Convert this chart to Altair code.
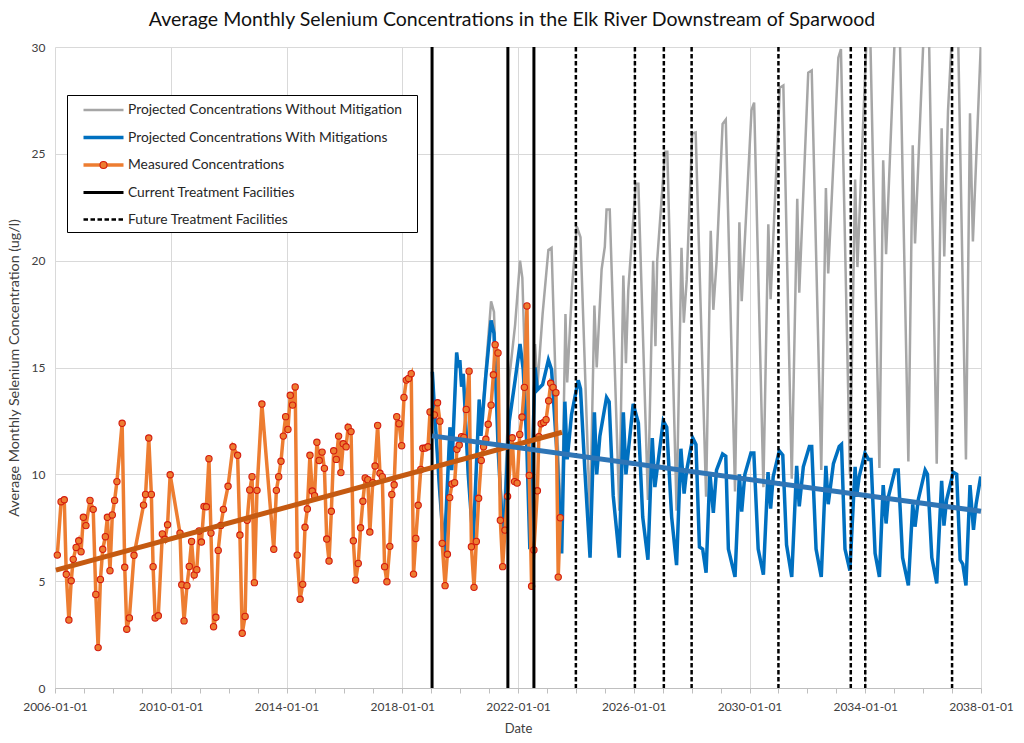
import altair as alt
import pandas as pd

# ------------------------------------------------------------------ data
# Measured monthly averages: (decimal year, ug/l)
measured = [
    (2006.08, 6.22), (2006.21, 8.72), (2006.32, 8.81), (2006.39, 5.32), (2006.48, 3.18),
    (2006.56, 5.02), (2006.63, 6.02), (2006.73, 6.58), (2006.82, 6.89), (2006.90, 6.38),
    (2006.98, 7.99), (2007.07, 7.60), (2007.21, 8.78), (2007.32, 8.36), (2007.41, 4.38),
    (2007.49, 1.89), (2007.57, 5.08), (2007.65, 6.49), (2007.74, 7.08), (2007.81, 7.99),
    (2007.90, 5.49), (2007.98, 8.10), (2008.06, 8.78), (2008.14, 9.66), (2008.32, 12.39),
    (2008.41, 5.65), (2008.48, 2.75), (2008.57, 3.28), (2008.73, 6.21), (2009.06, 8.56),
    (2009.13, 9.06), (2009.24, 11.70), (2009.33, 9.06), (2009.39, 5.68), (2009.46, 3.28),
    (2009.57, 3.38), (2009.71, 7.21), (2009.80, 6.96), (2009.89, 7.64), (2009.98, 9.98),
    (2010.32, 7.25), (2010.38, 4.83), (2010.46, 3.14), (2010.56, 4.79), (2010.64, 5.69),
    (2010.72, 6.86), (2010.81, 5.29), (2010.90, 5.54), (2010.98, 7.35), (2011.06, 6.83),
    (2011.15, 8.50), (2011.23, 8.48), (2011.32, 10.73), (2011.39, 7.25), (2011.48, 2.87),
    (2011.56, 3.31), (2011.64, 6.44), (2011.73, 7.61), (2011.82, 8.36), (2011.98, 9.44),
    (2012.15, 11.29), (2012.31, 10.89), (2012.39, 7.16), (2012.47, 2.56), (2012.57, 3.35),
    (2012.64, 7.85), (2012.73, 9.27), (2012.81, 9.89), (2012.89, 4.93), (2012.98, 9.25),
    (2013.15, 13.29), (2013.56, 6.49), (2013.65, 9.25), (2013.73, 9.89), (2013.81, 10.61),
    (2013.89, 11.79), (2013.97, 12.70), (2014.05, 12.10), (2014.13, 13.70), (2014.21, 13.24),
    (2014.30, 14.09), (2014.37, 6.22), (2014.47, 4.15), (2014.56, 4.85), (2014.64, 7.52),
    (2014.72, 8.38), (2014.81, 10.89), (2014.89, 9.22), (2014.97, 9.00), (2015.05, 11.50),
    (2015.13, 10.65), (2015.23, 11.04), (2015.31, 10.28), (2015.39, 6.97), (2015.47, 5.94),
    (2015.55, 8.27), (2015.63, 11.10), (2015.72, 10.70), (2015.80, 11.79), (2015.88, 10.08),
    (2015.96, 11.43), (2016.06, 11.29), (2016.13, 12.20), (2016.23, 12.00), (2016.31, 6.89),
    (2016.39, 5.05), (2016.48, 5.83), (2016.56, 7.50), (2016.64, 8.74), (2016.72, 9.83),
    (2016.81, 9.75), (2016.88, 7.30), (2016.98, 9.61), (2017.06, 10.39), (2017.15, 12.29),
    (2017.23, 10.05), (2017.31, 9.89), (2017.39, 5.68), (2017.47, 4.97), (2017.57, 6.63),
    (2017.64, 9.06), (2017.72, 9.51), (2017.81, 12.70), (2017.89, 12.37), (2017.98, 11.34),
    (2018.06, 13.60), (2018.14, 14.41), (2018.22, 14.49), (2018.31, 14.71), (2018.39, 5.33),
    (2018.47, 7.00), (2018.55, 8.55), (2018.64, 10.23), (2018.71, 11.22), (2018.80, 11.23),
    (2018.89, 11.29), (2018.96, 12.92), (2019.11, 12.78), (2019.22, 13.35), (2019.30, 12.49),
    (2019.38, 6.77), (2019.48, 4.79), (2019.56, 6.26), (2019.64, 8.91), (2019.72, 9.55),
    (2019.81, 9.61), (2019.89, 11.17), (2019.97, 11.37), (2020.05, 11.76), (2020.13, 11.73),
    (2020.21, 13.04), (2020.31, 14.83), (2020.39, 6.61), (2020.48, 4.71), (2020.56, 6.86),
    (2020.64, 8.88), (2020.73, 10.65), (2020.81, 11.29), (2020.89, 11.64), (2020.97, 12.34),
    (2021.07, 13.24), (2021.15, 14.66), (2021.21, 16.07), (2021.31, 15.68), (2021.39, 7.85),
    (2021.47, 5.68), (2021.55, 7.39), (2021.64, 8.97), (2021.80, 11.71), (2021.88, 9.66),
    (2021.97, 9.59), (2022.06, 11.87), (2022.14, 12.68), (2022.22, 14.07), (2022.31, 17.88),
    (2022.39, 9.95), (2022.47, 4.76), (2022.55, 6.46), (2022.67, 9.23), (2022.72, 11.76),
    (2022.80, 12.37), (2022.89, 12.43), (2022.97, 12.56), (2023.06, 13.44), (2023.13, 14.26),
    (2023.21, 14.07), (2023.31, 13.82), (2023.39, 5.19), (2023.46, 7.97),
]

# Projections: identical for both scenarios until late 2020
projected_shared = [
    (2019.04, 14.8), (2019.12, 12.9), (2019.28, 9.5), (2019.45, 6.3), (2019.65, 12.2),
    (2019.71, 10.2), (2019.88, 15.7), (2019.94, 15.0), (2019.99, 15.35), (2020.05, 14.1),
    (2020.11, 14.7), (2020.28, 10.0), (2020.45, 6.8), (2020.66, 13.5), (2020.72, 11.8),
]

with_mitigation = projected_shared + [
    (2020.88, 14.5), (2021.07, 17.2), (2021.17, 16.6), (2021.32, 11.0), (2021.49, 6.8),
    (2021.70, 12.5), (2021.90, 14.4), (2022.07, 16.1), (2022.18, 14.9), (2022.30, 11.5),
    (2022.41, 6.5), (2022.59, 15.0), (2022.67, 13.95), (2022.85, 14.2), (2023.05, 15.35),
    (2023.16, 14.9), (2023.34, 11.1), (2023.51, 6.3), (2023.62, 13.4), (2023.70, 10.7),
    (2023.85, 12.8),
    (2024.08, 14.4), (2024.16, 14.0), (2024.31, 10.2), (2024.49, 6.1), (2024.64, 12.9), (2024.72, 10.0), (2024.83, 11.8),
    (2025.06, 13.6), (2025.15, 13.4), (2025.29, 9.0), (2025.50, 6.1), (2025.64, 12.9), (2025.73, 10.0),
    (2025.98, 13.3), (2026.16, 12.4), (2026.31, 8.0), (2026.49, 6.0), (2026.64, 11.7), (2026.73, 9.4),
    (2027.02, 12.5), (2027.14, 12.2), (2027.31, 8.0), (2027.48, 5.75), (2027.63, 11.2), (2027.74, 9.1), (2027.83, 10.2),
    (2028.04, 11.7), (2028.15, 11.4), (2028.27, 6.6), (2028.38, 6.5), (2028.50, 5.4), (2028.63, 10.1), (2028.75, 8.2), (2028.86, 10.2),
    (2029.07, 10.95), (2029.18, 10.85), (2029.27, 6.5), (2029.50, 5.2), (2029.65, 10.0), (2029.73, 8.25), (2029.84, 10.0),
    (2030.05, 11.0), (2030.15, 11.0), (2030.30, 6.5), (2030.48, 5.3), (2030.64, 10.1), (2030.73, 8.4), (2030.82, 9.9),
    (2031.03, 11.1), (2031.15, 10.9), (2031.28, 6.7), (2031.46, 5.2), (2031.63, 10.4), (2031.72, 8.5), (2031.86, 10.35),
    (2032.07, 11.3), (2032.15, 11.3), (2032.30, 6.5), (2032.48, 5.2), (2032.64, 10.4), (2032.72, 8.6), (2032.90, 10.5),
    (2033.10, 11.3), (2033.18, 11.4), (2033.30, 6.5), (2033.47, 5.5), (2033.65, 10.35), (2033.70, 8.95), (2033.79, 9.9),
    (2033.99, 11.0), (2034.11, 10.7), (2034.20, 10.7), (2034.34, 6.3), (2034.49, 5.2), (2034.62, 9.5), (2034.72, 7.7), (2034.80, 8.95),
    (2035.03, 10.2), (2035.14, 10.2), (2035.29, 6.1), (2035.49, 4.8), (2035.64, 8.6), (2035.72, 7.55), (2035.83, 8.8),
    (2036.07, 10.2), (2036.15, 10.0), (2036.30, 6.1), (2036.47, 4.9), (2036.64, 9.7), (2036.72, 7.6), (2036.81, 8.8),
    (2037.04, 10.1), (2037.16, 10.0), (2037.28, 6.0), (2037.37, 5.8), (2037.48, 4.8), (2037.62, 9.5), (2037.74, 7.4), (2037.83, 8.6), (2037.99, 9.9),
]

without_mitigation = projected_shared + [
    (2020.88, 14.8), (2021.07, 18.1), (2021.17, 17.6), (2021.32, 11.5), (2021.49, 7.0),
    (2021.70, 14.5), (2021.90, 17.0), (2022.07, 20.0), (2022.15, 19.2), (2022.30, 12.5),
    (2022.45, 7.0), (2022.59, 16.1), (2022.67, 14.1), (2022.85, 17.5), (2023.05, 20.5),
    (2023.16, 20.6), (2023.34, 12.5), (2023.51, 7.2), (2023.64, 17.5), (2023.70, 14.3),
    (2023.87, 18.8),
    (2024.03, 21.6), (2024.16, 21.1), (2024.49, 7.8), (2024.64, 17.9), (2024.72, 15.0), (2024.89, 19.6), (2025.00, 20.65),
    (2025.06, 22.4), (2025.17, 22.4), (2025.50, 8.3), (2025.64, 19.3), (2025.73, 15.2), (2025.81, 18.6),
    (2026.07, 23.6), (2026.16, 23.6), (2026.49, 8.8), (2026.67, 20.0), (2026.75, 16.0), (2026.81, 20.0),
    (2027.08, 25.1), (2027.16, 25.1), (2027.48, 8.3), (2027.65, 20.6), (2027.73, 17.1), (2027.83, 19.1),
    (2028.02, 25.95), (2028.14, 26.0), (2028.50, 8.95), (2028.66, 21.4), (2028.75, 17.7), (2028.86, 19.9),
    (2029.07, 26.4), (2029.18, 26.6), (2029.50, 9.2), (2029.65, 21.8), (2029.73, 18.1),
    (2030.07, 27.05), (2030.16, 27.4), (2030.48, 9.4), (2030.65, 21.7), (2030.73, 18.2),
    (2031.05, 28.1), (2031.17, 28.2), (2031.46, 9.8), (2031.65, 22.9), (2031.72, 18.5),
    (2032.03, 28.8), (2032.15, 28.9), (2032.48, 10.2), (2032.64, 23.4), (2032.72, 19.4),
    (2033.07, 29.5), (2033.16, 29.9), (2033.47, 10.0), (2033.65, 23.8), (2033.73, 19.7),
    (2034.05, 30.6), (2034.17, 30.8), (2034.49, 10.3), (2034.62, 24.7), (2034.72, 20.3),
    (2035.05, 31.5), (2035.18, 31.6), (2035.49, 10.6), (2035.64, 25.4), (2035.72, 20.8),
    (2036.06, 32.0), (2036.18, 32.2), (2036.47, 10.5), (2036.64, 26.2), (2036.73, 20.2), (2036.86, 27.0),
    (2037.07, 32.5), (2037.18, 32.7), (2037.48, 10.7), (2037.62, 26.9), (2037.72, 20.9), (2037.99, 30.0),
]

# Trend lines (end points)
measured_trend = [(2006.03, 5.52), (2023.52, 11.97)]
projected_trend = [(2019.03, 11.80), (2038.00, 8.27)]

# Treatment facility dates (decimal years)
current_facilities = [2019.03, 2021.65, 2022.55]
future_facilities = [2024.00, 2026.04, 2027.04, 2028.00, 2031.00, 2033.50, 2034.00, 2037.00]

# Axis ticks
year_ticks = list(range(2006, 2039))
y_ticks = [0, 5, 10, 15, 20, 25, 30]

legend_labels = [
    "Projected Concentrations Without Mitigation",
    "Projected Concentrations With Mitigations",
    "Measured Concentrations",
    "Current Treatment Facilities",
    "Future Treatment Facilities",
]

# ------------------------------------------------------------------ styles
FONT = "Lato"
GRAY = "#A6A6A6"
BLUE = "#0070C0"
ORANGE = "#ED7D31"
MARKER_EDGE = "#D41B0E"
TREND_ORANGE = "#C55A11"
TREND_BLUE = "#2E75B6"
TEXT = "#404040"


def frame(pairs):
    return pd.DataFrame(pairs, columns=["year", "value"])


is_major = "(datum.value - 2006) % 4 == 0"
x_axis = alt.Axis(
    values=year_ticks,
    labelExpr=f"{is_major} ? datum.value + '-01-01' : ''",
    labelOverlap=False,
    labelFlush=False,
    gridOpacity={"condition": {"test": is_major, "value": 1}, "value": 0},
    grid=True,
    gridColor="#D9D9D9",
    domainColor="#BFBFBF",
    tickColor="#BFBFBF",
    tickSize=5,
    labelPadding=8,
    titlePadding=10,
)
y_axis = alt.Axis(
    values=y_ticks,
    grid=True,
    gridColor="#D9D9D9",
    ticks=False,
    domain=False,
    labelPadding=10,
    titlePadding=10,
    titleFontSize=14.3,
)

X = alt.X("year:Q", scale=alt.Scale(domain=[2006, 2038], nice=False, zero=False),
          axis=x_axis, title="Date")
Y = alt.Y("value:Q", scale=alt.Scale(domain=[0, 30], nice=False, zero=True),
          axis=y_axis, title="Average Monthly Selenium Concentration (ug/l)")

gray_line = alt.Chart(frame(without_mitigation)).mark_line(
    color=GRAY, strokeWidth=2.5, clip=True).encode(x=X, y=Y)
blue_line = alt.Chart(frame(with_mitigation)).mark_line(
    color=BLUE, strokeWidth=3.5, clip=True).encode(x=X, y=Y)
meas_line = alt.Chart(frame(measured)).mark_line(
    color=ORANGE, strokeWidth=3.5).encode(x=X, y=Y)
meas_pts = alt.Chart(frame(measured)).mark_circle(
    fill=ORANGE, stroke=MARKER_EDGE, strokeWidth=1.1, size=40, opacity=1).encode(x=X, y=Y)

cur_rules = alt.Chart(pd.DataFrame({"year": current_facilities})).mark_rule(
    color="black", strokeWidth=3).encode(x=X)
fut_rules = alt.Chart(pd.DataFrame({"year": future_facilities})).mark_rule(
    color="black", strokeWidth=2.5, strokeDash=[4.5, 2.5]).encode(x=X)

trend_m = alt.Chart(frame(measured_trend)).mark_line(
    color=TREND_ORANGE, strokeWidth=5).encode(x=X, y=Y)
trend_p = alt.Chart(frame(projected_trend)).mark_line(
    color=TREND_BLUE, strokeWidth=5).encode(x=X, y=Y)

# ------------------------------------------------------------------ legend box
one = pd.DataFrame({"k": [0]})
legend_layers = [
    alt.Chart(one).mark_rect(fill="white", stroke="black", strokeWidth=1).encode(
        x=alt.value(12.5), x2=alt.value(362.5), y=alt.value(48.5), y2=alt.value(185.5))
]
row_y = [63, 90.5, 118, 145.5, 172.5]
sym_styles = [
    dict(color=GRAY, strokeWidth=2.5),
    dict(color=BLUE, strokeWidth=3.5),
    dict(color=ORANGE, strokeWidth=3.5),
    dict(color="black", strokeWidth=3),
    dict(color="black", strokeWidth=2.5, strokeDash=[4.5, 2.5]),
]
for label, ry, st in zip(legend_labels, row_y, sym_styles):
    legend_layers.append(
        alt.Chart(one).mark_rule(**st).encode(x=alt.value(28.5), x2=alt.value(68.5), y=alt.value(ry)))
    legend_layers.append(
        alt.Chart(pd.DataFrame({"label": [label]})).mark_text(
            align="left", baseline="middle", font=FONT, fontSize=13.8, color="#262626"
        ).encode(x=alt.value(73), y=alt.value(ry), text="label:N"))
legend_layers.append(
    alt.Chart(one).mark_circle(fill=ORANGE, stroke=MARKER_EDGE, strokeWidth=1.1, size=50, opacity=1)
    .encode(x=alt.value(48.5), y=alt.value(row_y[2])))

chart = alt.layer(
    gray_line, blue_line, meas_line, meas_pts, cur_rules, fut_rules, trend_m, trend_p,
    *legend_layers,
).properties(
    width=926,
    height=641,
    autosize=alt.AutoSizeParams(type="none"),
    padding={"left": 55, "top": 47, "right": 43, "bottom": 55},
    background="white",
    title=alt.TitleParams(
        text="Average Monthly Selenium Concentrations in the Elk River Downstream of Sparwood",
        font=FONT, fontSize=19.5, fontWeight="normal", color="#111111",
        anchor="middle", offset=11, dx=-6),
).configure_view(
    strokeWidth=0
).configure_axis(
    labelFont=FONT, titleFont=FONT, labelFontSize=12, titleFontSize=13,
    labelColor=TEXT, titleColor=TEXT, titleFontWeight="normal",
)

chart.save("out.html", embed_options={"renderer": "svg", "actions": False})
